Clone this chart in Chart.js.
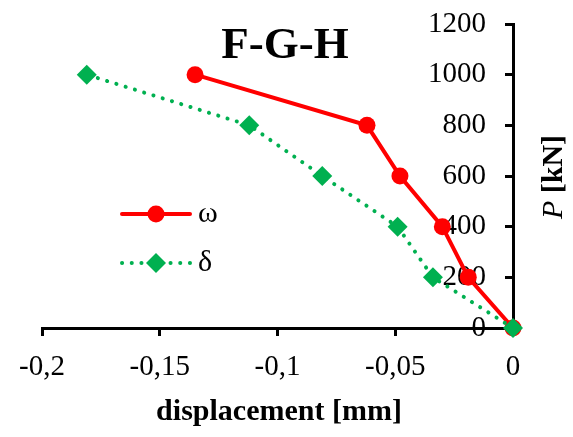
<!DOCTYPE html>
<html>
<head>
<meta charset="utf-8">
<script src="https://cdn.jsdelivr.net/npm/chart.js@4.4.1/dist/chart.umd.min.js"></script>
<style>
  html, body { margin: 0; padding: 0; background: #fff; }
</style>
</head>
<body>
<canvas id="myChart" width="573" height="437"></canvas>
<script>
// values
const loadP = [0, 200, 400, 600, 800, 1000];
const omegaX = [0, -0.019, -0.030, -0.048, -0.062, -0.135];
const deltaX = [0, -0.034, -0.049, -0.081, -0.112, -0.181];
const xTicks = [-0.2, -0.15, -0.1, -0.05, 0];
const yTicks = [0, 200, 400, 600, 800, 1000, 1200];

const RED = 'rgb(255, 0, 0)';
const GREEN = 'rgb(0, 176, 80)';
const SERIF = '"Liberation Serif", "Times New Roman", serif';

function toPoints(xs) {
  return xs.map(function (x, i) { return { x: x, y: loadP[i] }; });
}

function fmt(v) {
  return String(Math.round(v * 100) / 100).replace('.', ',');
}

// title, y axis title and legend drawn on top
const extras = {
  id: 'extras',
  afterDraw: function (chart) {
    const ctx = chart.ctx;
    const area = chart.chartArea;
    ctx.save();
    ctx.fillStyle = '#000';

    // F-G-H
    ctx.font = 'bold 45px ' + SERIF;
    ctx.textAlign = 'center';
    ctx.textBaseline = 'alphabetic';
    ctx.fillText('F-G-H', 285, 58);

    // displacement [mm]
    ctx.font = 'bold 30px ' + SERIF;
    ctx.fillText('displacement [mm]', 279, 420);

    // P [kN], rotated
    ctx.save();
    ctx.translate(562, 177);
    ctx.rotate(-Math.PI / 2);
    ctx.font = 'italic 30px ' + SERIF;
    const wP = ctx.measureText('P').width;
    ctx.font = 'bold 30px ' + SERIF;
    const wRest = ctx.measureText(' [kN]').width;
    const start = -(wP + wRest) / 2;
    ctx.textAlign = 'left';
    ctx.font = 'italic 30px ' + SERIF;
    ctx.fillText('P', start, 0);
    ctx.font = 'bold 30px ' + SERIF;
    ctx.fillText(' [kN]', start + wP, 0);
    ctx.restore();

    // legend
    const items = [
      { label: 'ω', color: RED, marker: 'circle', dash: [], y: 214 },
      { label: 'δ', color: GREEN, marker: 'diamond', dash: [0.1, 9.6], y: 263 }
    ];
    const x0 = area.left + 80, x1 = area.left + 148, xm = (x0 + x1) / 2;
    items.forEach(function (it) {
      ctx.strokeStyle = it.color;
      ctx.fillStyle = it.color;
      ctx.lineWidth = 4;
      ctx.lineCap = 'round';
      ctx.setLineDash(it.dash);
      ctx.beginPath();
      ctx.moveTo(x0, it.y);
      ctx.lineTo(x1, it.y);
      ctx.stroke();
      ctx.setLineDash([]);
      ctx.beginPath();
      if (it.marker === 'circle') {
        ctx.arc(xm, it.y, 8.5, 0, Math.PI * 2);
      } else {
        ctx.moveTo(xm - 10, it.y);
        ctx.lineTo(xm, it.y - 10);
        ctx.lineTo(xm + 10, it.y);
        ctx.lineTo(xm, it.y + 10);
        ctx.closePath();
      }
      ctx.fill();
      ctx.fillStyle = '#000';
      ctx.font = '30px ' + SERIF;
      ctx.textAlign = 'left';
      ctx.textBaseline = 'middle';
      ctx.fillText(it.label, x1 + 8, it.y);
    });
    ctx.restore();
  }
};

const data = {
  datasets: [
    {
      label: 'ω',
      data: toPoints(omegaX),
      showLine: true,
      borderColor: RED,
      backgroundColor: RED,
      borderWidth: 4,
      pointRadius: 8.5,
      pointBorderWidth: 0,
      pointStyle: 'circle',
      clip: false,
      order: 1
    },
    {
      label: 'δ',
      data: toPoints(deltaX),
      showLine: true,
      borderColor: GREEN,
      backgroundColor: GREEN,
      borderWidth: 4,
      borderDash: [0.1, 9.6],
      borderCapStyle: 'round',
      pointRadius: 10,
      pointBorderWidth: 0,
      pointStyle: 'rectRot',
      clip: false,
      order: 0
    }
  ]
};

const config = {
  type: 'scatter',
  data: data,
  options: {
    responsive: false,
    devicePixelRatio: 1,
    animation: false,
    events: [],
    layout: { padding: { left: 42, right: 60, top: 24, bottom: 0 } },
    plugins: { legend: { display: false }, tooltip: { enabled: false } },
    scales: {
      x: {
        type: 'linear',
        position: 'bottom',
        min: -0.2,
        max: 0,
        afterBuildTicks: function (s) { s.ticks = xTicks.map(function (v) { return { value: v }; }); },
        afterFit: function (s) {
          s.height = 109;
          s.paddingLeft = 0;
          s.paddingRight = 0;
        },
        ticks: {
          color: '#000',
          font: { family: SERIF, size: 29 },
          padding: 14,
          maxRotation: 0,
          autoSkip: false,
          callback: fmt
        },
        grid: { drawOnChartArea: false, drawTicks: true, tickLength: 8, tickWidth: 3, tickColor: '#000' },
        border: { display: true, color: '#000', width: 3 }
      },
      y: {
        type: 'linear',
        position: 'right',
        min: 0,
        max: 1200,
        afterBuildTicks: function (s) { s.ticks = yTicks.map(function (v) { return { value: v }; }); },
        afterFit: function (s) {
          s.width = 0;
          s.paddingTop = 0;
          s.paddingBottom = 0;
        },
        ticks: {
          color: '#000',
          font: { family: SERIF, size: 29 },
          mirror: true,
          padding: -27,
          autoSkip: false,
          callback: function (v) { return String(v); }
        },
        grid: { drawOnChartArea: false, drawTicks: true, tickLength: -8, tickWidth: 3, tickColor: '#000' },
        border: { display: true, color: '#000', width: 3 }
      }
    }
  },
  plugins: [extras]
};

var myChart = new Chart(document.getElementById('myChart'), config);
</script>
</body>
</html>
